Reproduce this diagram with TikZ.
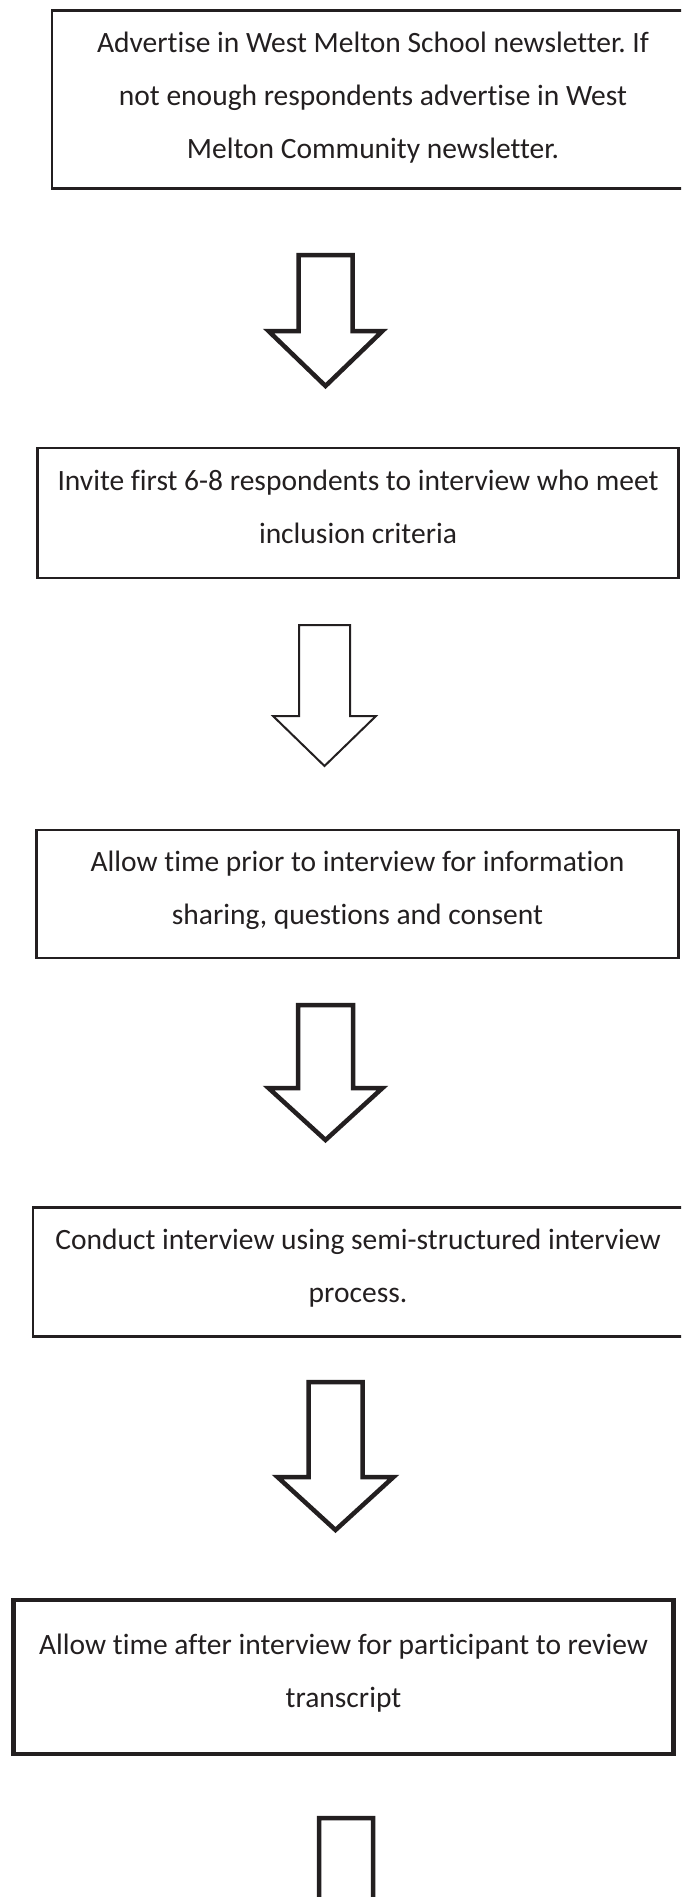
\documentclass[tikz,border=0pt]{standalone}
\usepackage{fontspec}
\setmainfont{Carlito}[Ligatures=NoCommon]
\usepackage{tikz}
\usetikzlibrary{calc}
\definecolor{ink}{HTML}{231F20}
\frenchspacing
% hollow block arrow pointing down: [opts]{top}{shaft half}{shaft length}{head half}{tip length}
\newcommand{\hollowdown}[6][]{%
  \draw[blockarrow,#1] (#2) ++(-#3,0) -- ++(0,#4) -- ++({#3-#5},0)
    -- ++(#5,{#6-#4}) -- ++(#5,{#4-#6}) -- ++({#3-#5},0) -- ++(0,-#4) -- cycle;}

\begin{document}
\begin{tikzpicture}[x=1pt,y=-1pt,
   stepbox/.style={draw=ink,line width=2.5pt,fill=white,text=ink,align=center,
     inner sep=0pt,text height=81pt,text depth=20pt,font=\fontsize{29.5}{53}\selectfont},
   blockarrow/.style={draw=ink,line width=4.5pt,fill=white}]
  \useasboundingbox (0,0) rectangle (681,1897);
  \clip (0,0) rectangle (681,1897);

  \node[stepbox,text height=139pt,minimum width=642,minimum height=178] (advert) at (373,99.5)
    {Advertise in West Melton School newsletter. If\\not enough respondents advertise in West\\Melton Community newsletter.};
  \node[stepbox,minimum width=641,minimum height=130] (invite) at (358,513)
    {Invite first 6-8 respondents to interview who meet\\inclusion criteria};
  \node[stepbox,minimum width=642,minimum height=128] (prior) at (357.5,894)
    {Allow time prior to interview for information\\sharing, questions and consent};
  \node[stepbox,minimum width=650,minimum height=129] (conduct) at (358,1272)
    {Conduct interview using semi-structured interview\\process.};
  \node[stepbox,line width=4.5pt,minimum width=660,minimum height=154] (review) at (343.5,1677)
    {Allow time after interview for participant to review\\transcript};

  % block arrows between the steps
  \coordinate (arrA) at (325.5,255);
  \coordinate (arrB) at (324.5,625);
  \coordinate (arrC) at (325.5,1005);
  \coordinate (arrD) at (335.5,1382);
  \coordinate (arrE) at (346,1818);
  \hollowdown{arrA}{27}{76}{57}{131}
  \hollowdown[line width=2pt]{arrB}{25.5}{91}{51.5}{141}
  \hollowdown{arrC}{27.5}{83}{57}{135}
  \hollowdown{arrD}{27}{95}{58}{148}
  \hollowdown{arrE}{27}{100}{58}{150}
\end{tikzpicture}
\end{document}
